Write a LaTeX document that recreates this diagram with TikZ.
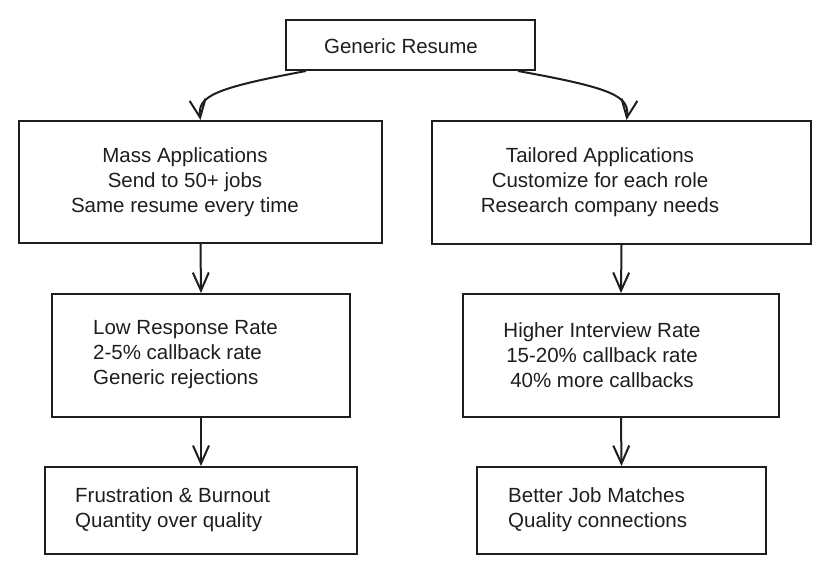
\documentclass[tikz,border=0pt]{standalone}
\usepackage{fontspec}
\setmainfont{Liberation Sans}
\usetikzlibrary{arrows.meta}
\definecolor{ink}{HTML}{1E1E1E}
\tikzset{
  box/.style={draw=ink, line width=2pt, rectangle, inner sep=0pt, fill=white},
  txt/.style={text=ink, font=\fontsize{20.5}{25}\selectfont, inner sep=0pt},
  conn/.style={draw=ink, line width=2pt, -{Straight Barb[length=18pt,width=16pt]}}
}
\begin{document}
\begin{tikzpicture}[x=1pt,y=-1pt]
\useasboundingbox (0,0) rectangle (830,574);
\fill[white] (0,0) rectangle (830,574);

\node[box, minimum width=249pt, minimum height=50pt] (top) at (410.5,45) {};
\node[box, minimum width=363pt, minimum height=122pt] (b2l) at (200.5,182) {};
\node[box, minimum width=379pt, minimum height=123pt] (b2r) at (621.5,182.5) {};
\node[box, minimum width=298pt, minimum height=123pt] (b3l) at (201,355.5) {};
\node[box, minimum width=316pt, minimum height=123pt] (b3r) at (621,355.5) {};
\node[box, minimum width=312pt, minimum height=87pt] (b4l) at (201,510.5) {};
\node[box, minimum width=289pt, minimum height=87pt] (b4r) at (621.5,510.5) {};

\node[txt] (t1) at (401,46) {Generic Resume};
\node[txt, align=center] (t2l) at (185,182) {Mass Applications\\Send to 50+ jobs\\Same resume every time};
\node[txt, align=center] (t2r) at (600,182) {Tailored Applications\\Customize for each role\\Research company needs};
\node[txt, align=left, anchor=west] (t3l) at (93,355) {Low Response Rate\\2-5\% callback rate\\Generic rejections};
\node[txt, align=center] (t3r) at (602,355) {Higher Interview Rate\\15-20\% callback rate\\40\% more callbacks};
\node[txt, align=left, anchor=west] (t4l) at (75,510) {Frustration \& Burnout\\Quantity over quality};
\node[txt, align=left, anchor=west] (t4r) at (508,510) {Better Job Matches\\Quality connections};

\draw[conn] ([xshift=21pt]top.south west) .. controls (215,88) and (197,96) .. (b2l.north);
\draw[conn] ([xshift=-18pt]top.south east) .. controls (612,88) and (630,96) .. ([xshift=5pt]b2r.north);
\draw[conn] (b2l.south) -- (b3l.north);
\draw[conn] (b2r.south) -- (b3r.north);
\draw[conn] (b3l.south) -- (b4l.north);
\draw[conn] (b3r.south) -- (b4r.north);
\end{tikzpicture}
\end{document}
